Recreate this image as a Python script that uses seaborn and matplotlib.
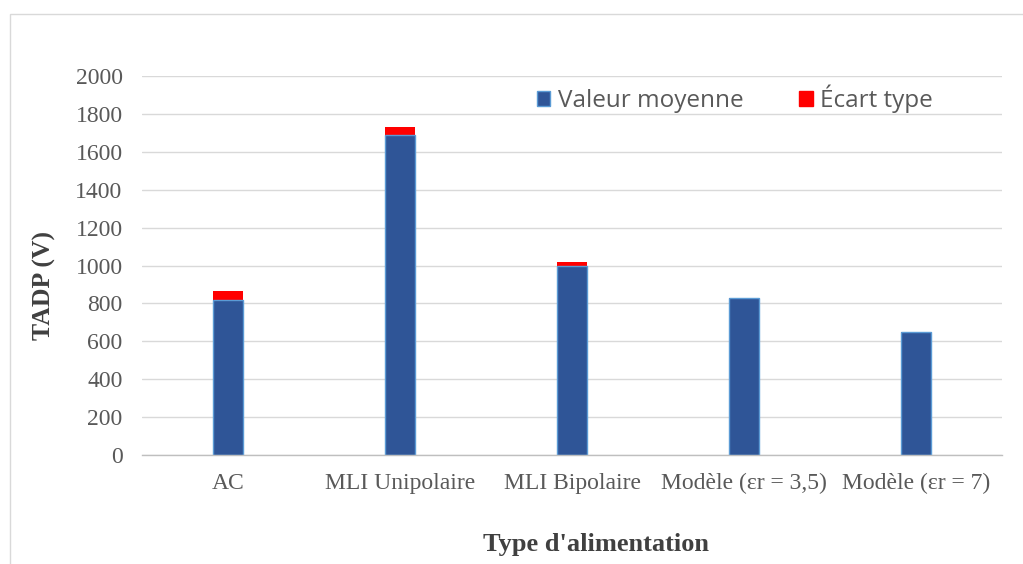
import matplotlib
matplotlib.use('Agg')
import matplotlib.pyplot as plt
from matplotlib.patches import Rectangle, Patch
from matplotlib.ticker import FixedLocator
import seaborn as sns
import pandas as pd

##### DATA #####
categories = ['AC', 'MLI Unipolaire', 'MLI Bipolaire',
              'Modèle (εr = 3,5)', 'Modèle (εr = 7)']
mean_values = [820, 1690, 1000, 830, 650]
std_values = [45, 42, 17, 0, 0]
y_ticks = list(range(0, 2001, 200))

df = pd.DataFrame({'type': categories, 'mean': mean_values, 'std': std_values})
df['total'] = df['mean'] + df['std']

##### PLOTTING #####
sns.set_style('white')
plt.rcParams['font.family'] = ['Liberation Serif', 'DejaVu Serif']

fig = plt.figure(figsize=(10.23, 5.64), dpi=100)
ax = fig.add_axes([0.1388, 0.1933, 0.8407, 0.6719])

blue = '#2F5597'
red = '#FF0000'

# red = mean + std drawn first, blue mean on top
sns.barplot(data=df, x='type', y='total', color=red, saturation=1,
            width=0.175, ax=ax, linewidth=0)
sns.barplot(data=df, x='type', y='mean', color=blue, saturation=1,
            width=0.175, ax=ax, edgecolor='#5B9BD5', linewidth=1)

ax.set_ylim(0, 2000)
ax.set_xlim(-0.5, 4.5)
ax.set_yticks(y_ticks)
ax.yaxis.grid(True, color='#D9D9D9', linewidth=1)
ax.set_axisbelow(True)
for s in ['top', 'right', 'left']:
    ax.spines[s].set_visible(False)
ax.spines['bottom'].set_color('#BFBFBF')
ax.spines['bottom'].set_linewidth(1)

ax.tick_params(axis='y', length=0, labelsize=17, labelcolor='#595959', pad=14)
ax.tick_params(axis='x', which='major', length=0, labelsize=17,
               labelcolor='#595959', pad=13)
ax.xaxis.set_minor_locator(FixedLocator([i - 0.5 for i in range(len(categories) + 1)]))
ax.tick_params(axis='x', which='minor', length=4.5, color='#BFBFBF', width=1)

ax.set_ylabel('TADP (V)', fontsize=18.5, fontweight='bold', color='#404040')
ax.yaxis.set_label_coords(-0.1, 0.446)
ax.set_xlabel("Type d'alimentation", fontsize=19, fontweight='bold', color='#404040')
ax.xaxis.set_label_coords(0.528, -0.207)
ax.xaxis.label.set_va('top')

handles = [Patch(facecolor=blue, edgecolor='#5B9BD5', label='Valeur moyenne'),
           Patch(facecolor=red, edgecolor=red, label='Écart type')]
ax.legend(handles=handles, loc='center left',
          bbox_to_anchor=(537 / 1023, 1 - 99 / 564), bbox_transform=fig.transFigure,
          ncol=2, frameon=False, borderpad=0, borderaxespad=0,
          handlelength=0.55, handleheight=0.55, handletextpad=0.3,
          columnspacing=2.3,
          prop={'family': ['Open Sans', 'DejaVu Sans'], 'size': 17.5},
          labelcolor='#595959')

# light chart-area border
fig.patches.append(Rectangle((0.0098, -0.01), 0.995, 0.985, transform=fig.transFigure,
                             fill=False, edgecolor='#D9D9D9', linewidth=1))

plt.savefig('out.png', dpi=100)
